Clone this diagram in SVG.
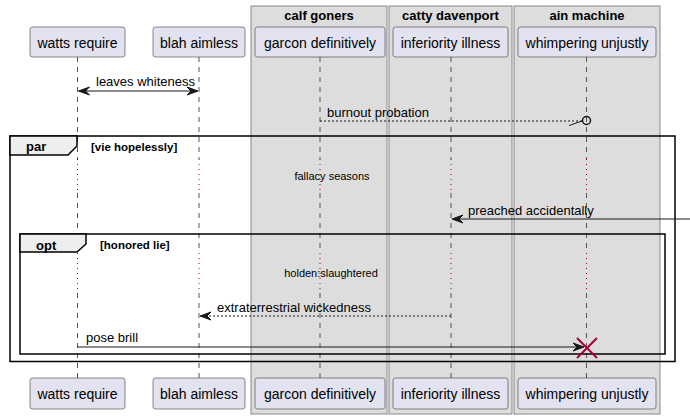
<svg xmlns="http://www.w3.org/2000/svg" width="690" height="419" viewBox="0 0 690 419">
<style>
text{font-family:"Liberation Sans",Arial,sans-serif;fill:#000}
.box{fill:#DDDDDD;stroke:#888888;stroke-width:1}
.btitle{font-size:13px;font-weight:bold;text-anchor:middle}
.part{fill:#E2E2F0;stroke:#181818;stroke-width:0.5}
.pt{font-size:14px;text-anchor:middle}
.life{stroke:#555555;stroke-width:1;stroke-dasharray:5,5;fill:none}
.delay{stroke:#A80036;stroke-width:1;stroke-dasharray:1,4;fill:none}
.msg{font-size:13px}
.dl{font-size:11px;text-anchor:middle}
.frame{fill:none;stroke:#000;stroke-width:1.5}
.tab{fill:#EEEEEE;stroke:#000;stroke-width:1.5}
.fl{font-size:13px;font-weight:bold}
.fc{font-size:11.5px;font-weight:bold}
.ln{stroke:#181818;stroke-width:1;fill:none}
.dash{stroke-dasharray:2,2}
.head{fill:#181818;stroke:#181818}
</style>
<g id="boxes">
<rect class="box" x="251" y="6" width="136" height="408"/>
<text class="btitle" x="319" y="19.5">calf goners</text>
<rect class="box" x="389" y="6" width="123" height="408"/>
<text class="btitle" x="450.5" y="19.5">catty davenport</text>
<rect class="box" x="514" y="6" width="146" height="408"/>
<text class="btitle" x="587" y="19.5">ain machine</text>
</g>
<g id="lifelines">
<path class="life" d="M77.5,57V159M77.5,193V253M77.5,293V378"/>
<path class="delay" d="M77.5,159V193M77.5,253V293"/>
<path class="life" d="M199,57V159M199,193V253M199,293V378"/>
<path class="delay" d="M199,159V193M199,253V293"/>
<path class="life" d="M320,57V159M320,193V253M320,293V378"/>
<path class="delay" d="M320,159V193M320,253V293"/>
<path class="life" d="M451,57V159M451,193V253M451,293V378"/>
<path class="delay" d="M451,159V193M451,253V293"/>
<path class="life" d="M586.5,57V159M586.5,193V253M586.5,293V378"/>
<path class="delay" d="M586.5,159V193M586.5,253V293"/>
</g>
<g id="frames">
<rect class="frame" x="10" y="136" width="665" height="225.5"/>
<path class="tab" d="M10,136H77V146L68,155H10Z"/>
<text class="fl" x="26" y="151">par</text>
<text class="fc" x="91" y="150.5">[vie hopelessly]</text>
<rect class="frame" x="20" y="234" width="645" height="120"/>
<path class="tab" d="M20,234H86V244L77,252H20Z"/>
<text class="fl" x="36" y="249.5">opt</text>
<text class="fc" x="100" y="249">[honored lie]</text>
<text class="dl" x="332" y="180">fallacy seasons</text>
<text class="dl" x="331" y="277">holden:slaughtered</text>
</g>
<g id="participants">
<g id="p-watts"><rect class="part" x="30" y="27" width="95" height="30" rx="2.5"/><text class="pt" x="77.5" y="47.5">watts require</text>
<rect class="part" x="30" y="378" width="95" height="31" rx="2.5"/><text class="pt" x="77.5" y="399">watts require</text></g>
<g id="p-blah"><rect class="part" x="153" y="27" width="92" height="30" rx="2.5"/><text class="pt" x="199" y="47.5">blah aimless</text>
<rect class="part" x="153" y="378" width="92" height="31" rx="2.5"/><text class="pt" x="199" y="399">blah aimless</text></g>
<g id="p-garcon"><rect class="part" x="255" y="27" width="130" height="30" rx="2.5"/><text class="pt" x="320" y="47.5">garcon definitively</text>
<rect class="part" x="255" y="378" width="130" height="31" rx="2.5"/><text class="pt" x="320" y="399">garcon definitively</text></g>
<g id="p-inferiority"><rect class="part" x="393" y="27" width="115" height="30" rx="2.5"/><text class="pt" x="450.5" y="47.5">inferiority illness</text>
<rect class="part" x="393" y="378" width="115" height="31" rx="2.5"/><text class="pt" x="450.5" y="399">inferiority illness</text></g>
<g id="p-whimpering"><rect class="part" x="518" y="27" width="138" height="30" rx="2.5"/><text class="pt" x="587" y="47.5">whimpering unjustly</text>
<rect class="part" x="518" y="378" width="138" height="31" rx="2.5"/><text class="pt" x="587" y="399">whimpering unjustly</text></g>
</g>
<g id="connectors">
<line class="ln" x1="79" y1="91" x2="197" y2="91"/>
<polygon class="head" points="78.5,91 89.5,87 85.5,91 89.5,95"/>
<polygon class="head" points="198,91 187,87 191,91 187,95"/>
<text class="msg" x="96" y="86">leaves whiteness</text>
<line class="ln dash" x1="320" y1="121" x2="582" y2="121"/>
<line class="ln" x1="569" y1="125.5" x2="582" y2="121"/>
<circle cx="586.5" cy="120.5" r="4" fill="none" stroke="#181818" stroke-width="1.5"/>
<text class="msg" x="327" y="116.5">burnout probation</text>
<line class="ln" x1="455" y1="219" x2="690" y2="219"/>
<polygon class="head" points="452,219 463,215 459,219 463,223"/>
<text class="msg" x="468" y="214.5">preached accidentally</text>
<line class="ln dash" x1="451" y1="316" x2="203" y2="316"/>
<polygon class="head" points="200,316 211,312 207,316 211,320"/>
<text class="msg" x="217" y="312">extraterrestrial wickedness</text>
<line class="ln" x1="77.5" y1="347" x2="582" y2="347"/>
<polygon class="head" points="584,347 573,343 577,347 573,351"/>
<text class="msg" x="86" y="342">pose brill</text>
<path d="M577,338L597,358M597,338L577,358" stroke="#A80036" stroke-width="2" fill="none"/>
</g>
</svg>
